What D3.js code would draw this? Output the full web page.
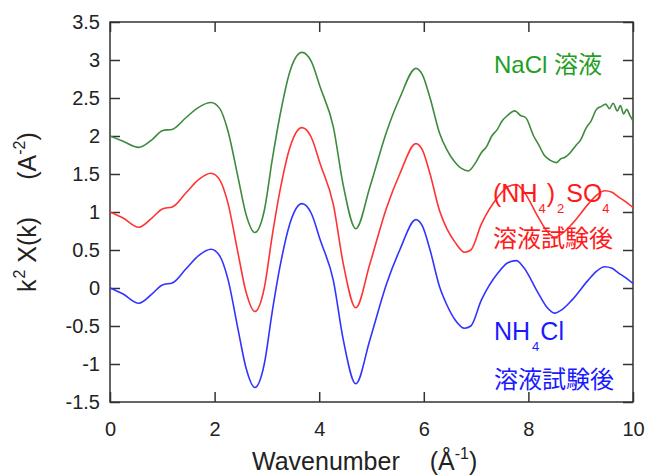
<!DOCTYPE html>
<html>
<head>
<meta charset="utf-8">
<script src="https://cdn.jsdelivr.net/npm/d3@7"></script>
<style>
  body { margin: 0; background: #fff; }
  text { font-family: "Liberation Sans", Arial, sans-serif; }
  .cjk { font-family: "Noto Sans CJK JP", "Noto Sans CJK SC", sans-serif; }
</style>
</head>
<body>
<script>
// k grid for the smooth curves
var kSmooth = [0, 0.25, 0.55, 0.8, 1.0, 1.2, 1.45, 1.7, 1.93, 2.1, 2.25, 2.45, 2.6, 2.77, 2.95, 3.1, 3.25, 3.44, 3.67, 3.85,
  4.02, 4.27, 4.46, 4.7, 4.97, 5.29, 5.54, 5.85, 5.97, 6.12, 6.3, 6.44, 6.6, 6.78, 6.9, 7.1, 7.42, 7.6, 7.77, 7.9,
  8.19, 8.35, 8.5, 8.65, 8.83, 9.14, 9.3, 9.46, 9.6, 9.72, 9.85, 10.0];

// NH4Cl after test (blue)
var nh4clVals = [0, -0.08, -0.2, -0.08, 0.04, 0.07, 0.25, 0.43, 0.51, 0.42, 0.13, -0.55, -1.05, -1.31, -1.0, -0.32, 0.28, 0.85, 1.11, 0.98,
  0.63, 0.1, -0.68, -1.26, -0.68, 0.06, 0.5, 0.9, 0.82, 0.5, 0.02, -0.22, -0.42, -0.53, -0.5, -0.16, 0.2, 0.33, 0.36, 0.28,
  -0.07, -0.25, -0.33, -0.28, -0.16, 0.1, 0.22, 0.28, 0.26, 0.2, 0.14, 0.06];

// (NH4)2SO4 after test (red)
var so4Vals = [1, 0.92, 0.8, 0.92, 1.04, 1.07, 1.25, 1.43, 1.51, 1.42, 1.13, 0.45, -0.05, -0.31, 0.0, 0.68, 1.28, 1.85, 2.11, 1.98,
  1.63, 1.1, 0.32, -0.26, 0.32, 1.06, 1.5, 1.9, 1.82, 1.5, 1.02, 0.78, 0.6, 0.47, 0.5, 0.84, 1.2, 1.33, 1.36, 1.28,
  0.93, 0.75, 0.67, 0.72, 0.84, 1.1, 1.22, 1.28, 1.26, 1.2, 1.14, 1.06];

// NaCl solution (green), noisier at high k
var kNacl = [0, 0.25, 0.55, 0.8, 1.0, 1.2, 1.45, 1.7, 1.93, 2.1, 2.25, 2.45, 2.6, 2.77, 2.95, 3.1, 3.25, 3.44, 3.67, 3.85,
  4.02, 4.27, 4.46, 4.7, 4.97, 5.29, 5.54, 5.85, 5.97, 6.12, 6.3, 6.44,
  6.6, 6.85, 7.0, 7.1, 7.2, 7.3, 7.4, 7.5, 7.6, 7.74, 7.85, 7.95, 8.1, 8.2, 8.3, 8.42, 8.54, 8.62, 8.7, 8.8,
  8.9, 9.0, 9.1, 9.2, 9.3, 9.4, 9.48, 9.55, 9.62, 9.7, 9.76, 9.82, 9.88, 9.94, 10.0];
var naclVals = [2.0, 1.93, 1.85, 1.95, 2.07, 2.09, 2.24, 2.38, 2.44, 2.36, 2.08, 1.45, 0.97, 0.73, 1.02, 1.68, 2.27, 2.85, 3.10, 2.98,
  2.64, 2.12, 1.35, 0.78, 1.33, 2.06, 2.5, 2.89, 2.81, 2.5, 2.04, 1.82,
  1.65, 1.54, 1.66, 1.78, 1.86, 2.0, 2.08, 2.2, 2.27, 2.33, 2.27, 2.24, 2.0, 1.88, 1.75, 1.68, 1.65, 1.70, 1.72, 1.78,
  1.87, 1.95, 2.10, 2.2, 2.35, 2.39, 2.42, 2.36, 2.43, 2.33, 2.40, 2.29, 2.35, 2.27, 2.2];

var xTicks = [0, 2, 4, 6, 8, 10];
var yTicks = [-1.5, -1, -0.5, 0, 0.5, 1, 1.5, 2, 2.5, 3, 3.5];

var W = 648, H = 475;
var margin = {left: 110, right: 15, top: 22, bottom: 73};

var svg = d3.select("body").append("svg")
    .attr("width", W)
    .attr("height", H);

var x = d3.scaleLinear().domain([0, 10]).range([margin.left, W - margin.right]);
var y = d3.scaleLinear().domain([-1.5, 3.5]).range([H - margin.bottom, margin.top]);

var fmt = function(d) { return String(d); };

// axes with inward ticks
var gx = svg.append("g").attr("transform", "translate(0," + y(-1.5) + ")")
    .call(d3.axisBottom(x).tickValues(xTicks).tickSize(-10).tickPadding(20).tickFormat(fmt));
var gxTop = svg.append("g").attr("transform", "translate(0," + y(3.5) + ")")
    .call(d3.axisTop(x).tickValues(xTicks).tickSize(-10).tickFormat(""));
var gy = svg.append("g").attr("transform", "translate(" + x(0) + ",0)")
    .call(d3.axisLeft(y).tickValues(yTicks).tickSize(-10).tickPadding(10).tickFormat(fmt));
var gyRight = svg.append("g").attr("transform", "translate(" + x(10) + ",0)")
    .call(d3.axisRight(y).tickValues(yTicks).tickSize(-10).tickFormat(""));

[gx, gxTop, gy, gyRight].forEach(function(g) {
  g.select(".domain").remove();
  g.selectAll(".tick line").attr("stroke", "#333").attr("stroke-width", 1.5);
  g.selectAll(".tick text").attr("fill", "#222").style("font-size", "20px")
    .style("font-family", "'Liberation Sans', Arial, sans-serif");
});

// frame
svg.append("rect")
    .attr("x", x(0)).attr("y", y(3.5))
    .attr("width", x(10) - x(0)).attr("height", y(-1.5) - y(3.5))
    .attr("fill", "none").attr("stroke", "#333").attr("stroke-width", 1.5);

// curves
var line = d3.line()
    .x(function(d) { return x(d[0]); })
    .y(function(d) { return y(d[1]); })
    .curve(d3.curveMonotoneX);

var series = [
  {k: kNacl, v: naclVals, color: "#3d8b3d"},
  {k: kSmooth, v: so4Vals, color: "#ff3333"},
  {k: kSmooth, v: nh4clVals, color: "#3333ff"}
];

series.forEach(function(s) {
  svg.append("path")
      .datum(d3.zip(s.k, s.v))
      .attr("d", line)
      .attr("fill", "none")
      .attr("stroke", s.color)
      .attr("stroke-width", 1.6);
});

// labels
var green = "#1f9e1f", red = "#ff1a1a", blue = "#1a1aff";

var t1 = svg.append("text").attr("x", 494).attr("y", 73).attr("fill", green).style("font-size", "24px");
t1.append("tspan").text("NaCl ");
t1.append("tspan").attr("class", "cjk").text("溶液");

var t2 = svg.append("text").attr("x", 493).attr("y", 202).attr("fill", red).style("font-size", "25px");
t2.append("tspan").text("(NH");
t2.append("tspan").attr("dy", 11).attr("dx", 1).style("font-size", "13px").text("4");
t2.append("tspan").attr("dy", -11).attr("dx", 1).text(")");
t2.append("tspan").attr("dy", 11).attr("dx", 2).style("font-size", "13px").text("2");
t2.append("tspan").attr("dy", -11).attr("dx", 2).text("SO");
t2.append("tspan").attr("dy", 11).style("font-size", "13px").text("4");

svg.append("text").attr("class", "cjk").attr("x", 493).attr("y", 247)
    .attr("fill", red).style("font-size", "24px").text("溶液試験後");

var t3 = svg.append("text").attr("x", 494).attr("y", 340).attr("fill", blue).style("font-size", "25px");
t3.append("tspan").text("NH");
t3.append("tspan").attr("dy", 11).attr("dx", 2).style("font-size", "13px").text("4");
t3.append("tspan").attr("dy", -11).attr("dx", 1).text("Cl");

svg.append("text").attr("class", "cjk").attr("x", 494).attr("y", 388)
    .attr("fill", blue).style("font-size", "24px").text("溶液試験後");

// axis titles
var xt = svg.append("text").attr("x", 252).attr("y", 470).attr("fill", "#222").style("font-size", "25px");
xt.append("tspan").text("Wavenumber");
xt.append("tspan").attr("dx", 30).text("(Å");
xt.append("tspan").attr("dy", -11).style("font-size", "16px").text("-1");
xt.append("tspan").attr("dy", 11).text(")");

var yt = svg.append("text").attr("transform", "translate(36,292) rotate(-90)")
    .attr("fill", "#222").style("font-size", "25px");
yt.append("tspan").text("k");
yt.append("tspan").attr("dy", -11).attr("dx", 1).style("font-size", "16px").text("2");
yt.append("tspan").attr("dy", 11).text(" Χ(k)");
yt.append("tspan").attr("dx", 37).text("(A");
yt.append("tspan").attr("dy", -11).style("font-size", "16px").text("-2");
yt.append("tspan").attr("dy", 11).text(")");
</script>
</body>
</html>
